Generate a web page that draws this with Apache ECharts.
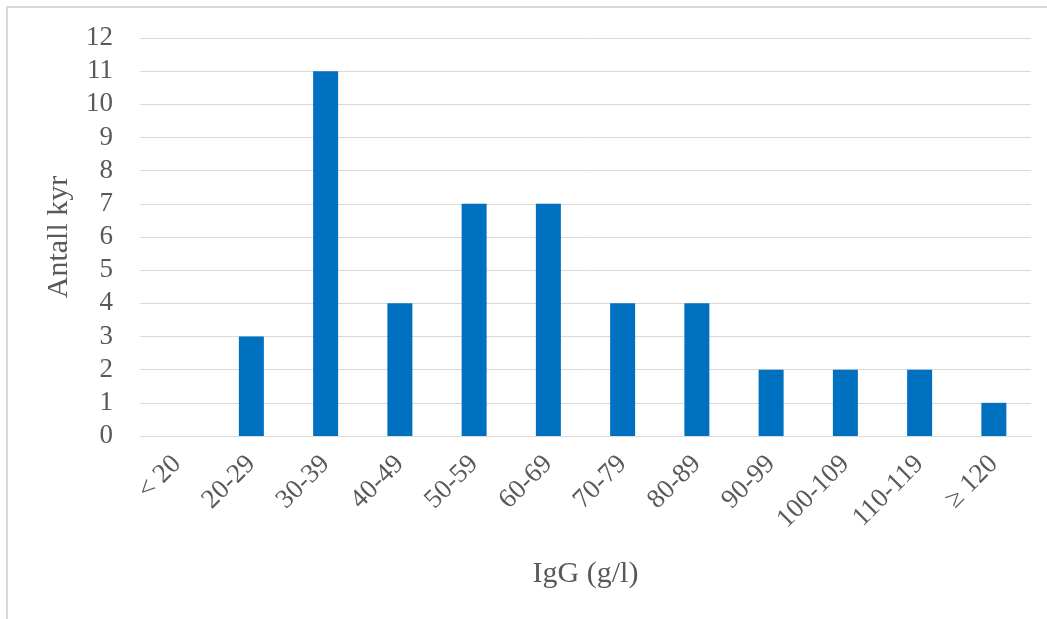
<!DOCTYPE html>
<html>
<head>
<meta charset="utf-8">
<script src="https://cdn.jsdelivr.net/npm/echarts@6/dist/echarts.min.js"></script>
<style>
  html, body { margin: 0; padding: 0; background: #fff; }
  #chart { width: 1047px; height: 619px; }
</style>
</head>
<body>
<div id="chart"></div>
<script>
// IgG-klasser og antall kyr
var categories = ['< 20', '20-29', '30-39', '40-49', '50-59', '60-69', '70-79', '80-89', '90-99', '100-109', '110-119', '\u2265 120'];
var antallKyr = [0, 3, 11, 4, 7, 7, 4, 4, 2, 2, 2, 1];
var yTicks = { min: 0, max: 12, interval: 1 };

var font = '"Liberation Serif", "Times New Roman", serif';
var textGrey = '#595959';
var lineGrey = '#d9d9d9';

var chart = echarts.init(document.getElementById('chart'));

chart.setOption({
	animation: false,
	backgroundColor: '#fff',
	graphic: [{
		type: 'rect',
		shape: { x: 7, y: 7, width: 1100, height: 700 },
		style: { fill: 'none', stroke: lineGrey, lineWidth: 2 },
		silent: true
	}],
	grid: {
		left: 140,
		right: 16,
		top: 38,
		bottom: 183
	},
	xAxis: {
		type: 'category',
		data: categories,
		name: 'IgG (g/l)',
		nameLocation: 'middle',
		nameGap: 123,
		nameTextStyle: { fontFamily: font, fontSize: 30, color: textGrey },
		axisTick: { show: false },
		axisLine: { lineStyle: { color: lineGrey, width: 1 } },
		axisLabel: {
			interval: 0,
			rotate: 45,
			margin: 24,
			fontFamily: font,
			fontSize: 27,
			color: textGrey
		}
	},
	yAxis: {
		type: 'value',
		min: yTicks.min,
		max: yTicks.max,
		interval: yTicks.interval,
		name: 'Antall kyr',
		nameLocation: 'middle',
		nameRotate: 90,
		nameGap: 66,
		nameTextStyle: { fontFamily: font, fontSize: 30, color: textGrey },
		axisLine: { show: false },
		axisTick: { show: false },
		axisLabel: { margin: 27, fontFamily: font, fontSize: 27, color: textGrey },
		splitLine: { lineStyle: { color: lineGrey, width: 1 } }
	},
	series: [{
		type: 'bar',
		data: antallKyr,
		barWidth: 25,
		itemStyle: { color: '#0070c0' }
	}]
});
</script>
</body>
</html>
